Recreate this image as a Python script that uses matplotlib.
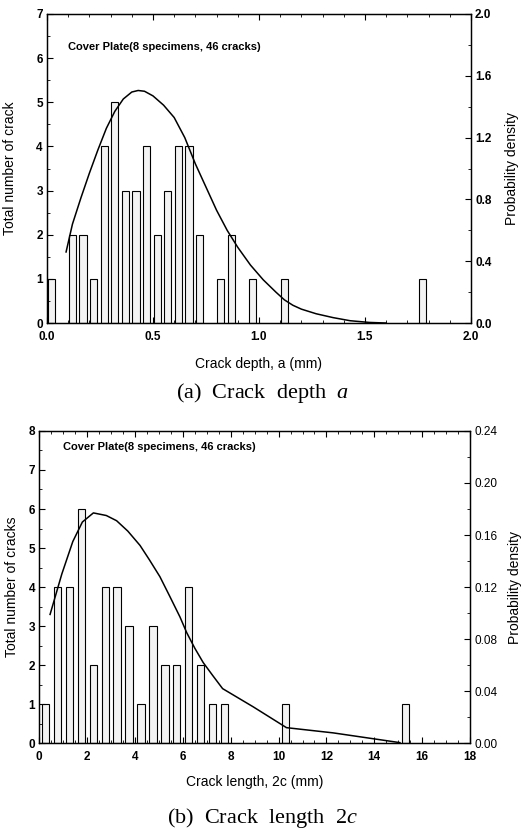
import matplotlib
matplotlib.use("Agg")
import matplotlib.pyplot as plt
from matplotlib.ticker import MultipleLocator

plt.rcParams['font.family'] = ['Liberation Sans', 'DejaVu Sans']
plt.rcParams['mathtext.fontset'] = 'custom'
plt.rcParams['mathtext.it'] = 'Liberation Serif:italic'
plt.rcParams['mathtext.rm'] = 'Liberation Serif'

# (a) profundidad de grieta: centros de clase (mm) y numero de grietas
prof_x = [0.02, 0.12, 0.17, 0.22, 0.27, 0.32, 0.37, 0.42, 0.47, 0.52,
          0.57, 0.62, 0.67, 0.72, 0.82, 0.87, 0.97, 1.12, 1.77]
prof_n = [1, 2, 2, 1, 4, 5, 3, 3, 4, 2, 3, 4, 4, 2, 1, 2, 1, 1, 1]
# curva de densidad ajustada (a)
dens_a_x = [0.09, 0.12, 0.16, 0.20, 0.24, 0.28, 0.32, 0.36, 0.40, 0.43, 0.46, 0.50,
            0.55, 0.60, 0.65, 0.70, 0.75, 0.80, 0.85, 0.90, 0.96, 1.02, 1.08, 1.12,
            1.16, 1.20, 1.27, 1.35, 1.43, 1.52, 1.60]
dens_a_y = [0.46, 0.64, 0.81, 0.97, 1.12, 1.26, 1.37, 1.45, 1.495, 1.505, 1.50, 1.47,
            1.41, 1.33, 1.20, 1.03, 0.88, 0.73, 0.60, 0.49, 0.375, 0.28, 0.20, 0.15,
            0.115, 0.09, 0.06, 0.035, 0.015, 0.004, 0.0]

# (b) longitud de grieta
long_x = [0.25, 0.75, 1.25, 1.75, 2.25, 2.75, 3.25, 3.75, 4.25, 4.75,
          5.25, 5.75, 6.25, 6.75, 7.25, 7.75, 10.3, 15.3]
long_n = [1, 4, 4, 6, 2, 4, 4, 3, 1, 3, 2, 2, 4, 2, 1, 1, 1, 1]
dens_b_x = [0.45, 0.94, 1.40, 1.80, 2.26, 2.80, 3.23, 3.70, 4.21, 4.60, 5.04, 5.45,
            5.88, 6.16, 6.50, 6.85, 7.25, 7.66, 8.94, 10.33, 12.28, 15.07]
dens_b_y = [0.099, 0.130, 0.155, 0.170, 0.177, 0.175, 0.171, 0.163, 0.152, 0.141, 0.128,
            0.113, 0.097, 0.085, 0.073, 0.062, 0.052, 0.042, 0.028, 0.012, 0.008, 0.0005]

titulo = 'Cover Plate(8 specimens, 46 cracks)'

fig = plt.figure(figsize=(5.24, 8.33), dpi=100)


def panel(rect, xs, ns, ancho, cx, cy, xlim, ylim, ylim2, xmaj, xmin, y2maj, y2min,
          xlab, ylab, xfmt, y2fmt, bold_right, pos_tit, pads):
    ax = fig.add_axes(rect)
    ax.bar(xs, ns, width=ancho, color='#f3f3f3', edgecolor='black', linewidth=0.8)
    ax.set_xlim(*xlim)
    ax.set_ylim(*ylim)
    ax.xaxis.set_major_locator(MultipleLocator(xmaj))
    ax.xaxis.set_minor_locator(MultipleLocator(xmin))
    ax.yaxis.set_major_locator(MultipleLocator(1))
    ax.yaxis.set_minor_locator(MultipleLocator(0.5))
    ax.xaxis.set_major_formatter(xfmt)
    ax.tick_params(which='both', direction='in', top=True, labelsize=8.5, pad=3)
    ax.tick_params(axis='x', pad=5.5)
    ax.tick_params(which='major', length=4, width=0.8)
    ax.tick_params(which='minor', length=2, width=0.6)
    for lab in ax.get_xticklabels() + ax.get_yticklabels():
        lab.set_fontweight('bold')
    ax.set_xlabel(xlab, fontsize=10, labelpad=pads[0])
    ax.set_ylabel(ylab, fontsize=10, labelpad=pads[1])
    ax.text(pos_tit[0], pos_tit[1], titulo, transform=ax.transAxes, fontsize=8,
            fontweight='bold', va='center')

    ax2 = ax.twinx()
    ax2.plot(cx, cy, color='black', linewidth=1.1)
    ax2.set_ylim(*ylim2)
    ax2.yaxis.set_major_locator(MultipleLocator(y2maj))
    ax2.yaxis.set_minor_locator(MultipleLocator(y2min))
    ax2.yaxis.set_major_formatter(y2fmt)
    ax2.tick_params(which='both', direction='in', labelsize=8.5, pad=3)
    ax2.tick_params(which='major', length=4, width=0.8)
    ax2.tick_params(which='minor', length=2, width=0.6)
    if bold_right:
        for lab in ax2.get_yticklabels():
            lab.set_fontweight('bold')
    ax2.set_ylabel('Probability density', fontsize=10, labelpad=pads[2])
    for a in (ax, ax2):
        for s in a.spines.values():
            s.set_linewidth(0.9)
    return ax


panel([0.0897, 0.6122, 0.809, 0.371], prof_x, prof_n, 0.034, dens_a_x, dens_a_y,
      (0, 2.0), (0, 7), (0, 2.0), 0.5, 0.1, 0.4, 0.2,
      'Crack depth, a (mm)', 'Total number of crack', '{x:.1f}', '{x:.1f}', True,
      (0.05, 0.893), (10, 14, 10))

panel([0.075, 0.1077, 0.822, 0.375], long_x, long_n, 0.3, dens_b_x, dens_b_y,
      (0, 18), (0, 8), (0, 0.24), 2, 0.5, 0.04, 0.02,
      'Crack length, 2c (mm)', 'Total number of cracks', '{x:.0f}', '{x:.2f}', False,
      (0.055, 0.949), (9, 7, 8))

fig.text(0.5, 1 - 393 / 833, r'(a)  Crack  depth  $a$', ha='center', va='center',
         fontsize=16, family='Liberation Serif')
fig.text(0.5, 1 - 818 / 833, r'(b)  Crack  length  2$c$', ha='center', va='center',
         fontsize=16, family='Liberation Serif')

fig.savefig('out.png', dpi=100)
